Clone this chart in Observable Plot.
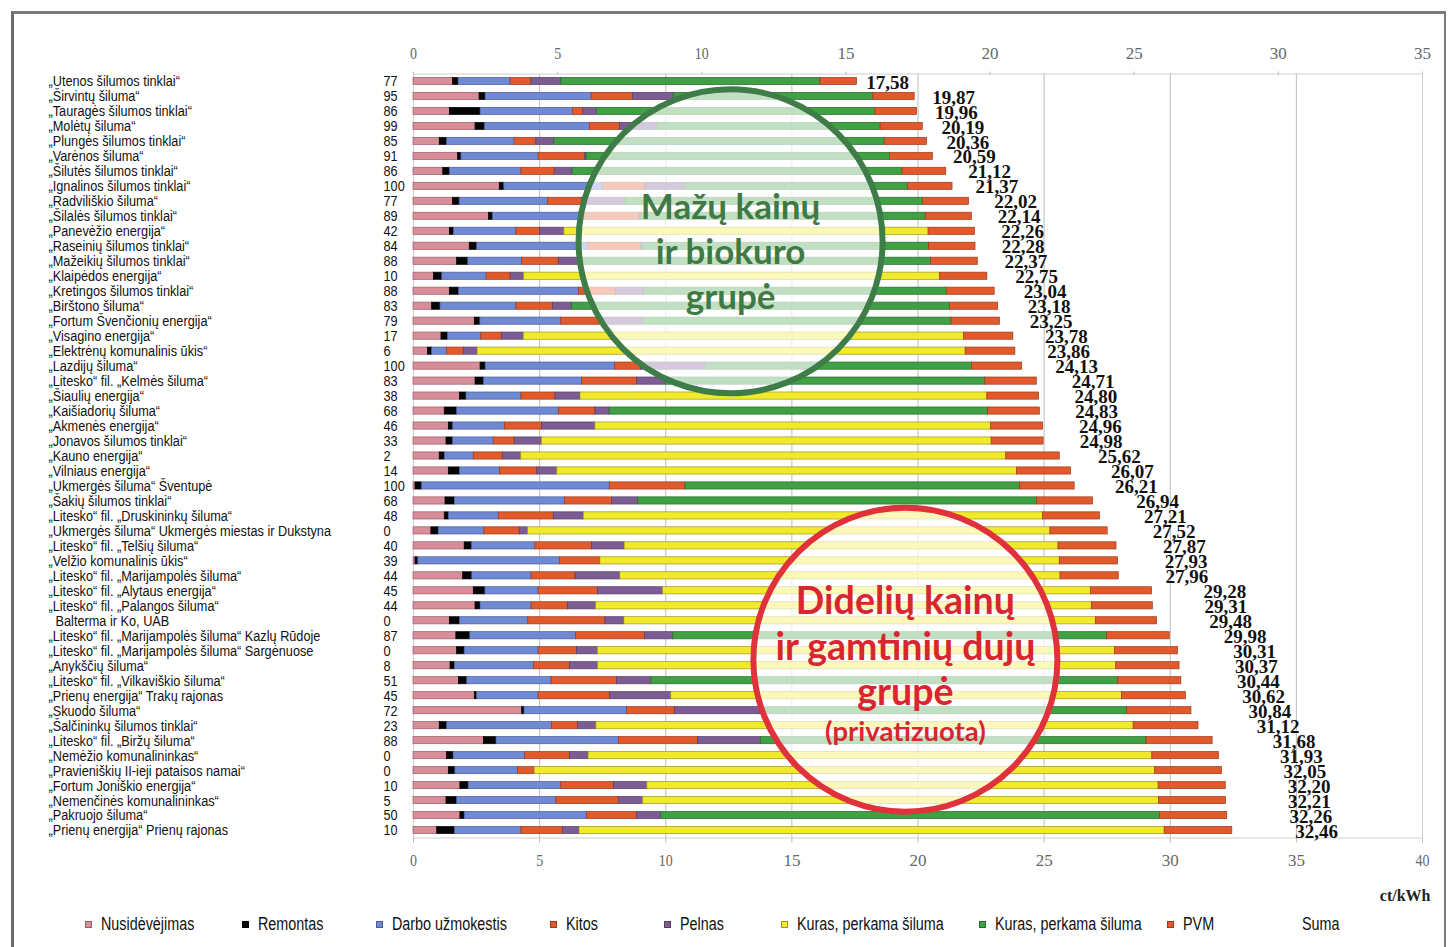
<!DOCTYPE html>
<html>
<head>
<meta charset="utf-8">
<script src="https://cdn.jsdelivr.net/npm/d3@7"></script>
<script src="https://cdn.jsdelivr.net/npm/@observablehq/plot@0.6"></script>
<style>
  body { margin: 0; background: #fff; }
  #wrap { position: relative; width: 1456px; height: 947px; overflow: hidden; background: #fff; }
  #chart { position: absolute; left: 0; top: 0; }
  #frame { position: absolute; left: 11px; top: 11px; width: 1430px; height: 980px;
           border-left: 3px solid #6b6b6b; border-top: 3px solid #7a7a7a; border-right: 2px solid #7a7a7a;
           pointer-events: none; }
  #legend { position: absolute; left: 0; top: 913px; width: 1456px; height: 22px;
            font-family: "Liberation Sans", Arial, sans-serif;
            font-size: 17.5px; color: #111; }
  .li { position: absolute; top: 0; white-space: nowrap; line-height: 22px; }
  .sw { display: inline-block; width: 5px; height: 5px; margin-right: 9px; vertical-align: middle;
        position: relative; top: -1px; border: 1px solid #555; }
  .lt { display: inline-block; transform: scaleX(0.82); transform-origin: 0 50%; }
</style>
</head>
<body>
<div id="wrap">
  <div id="chart"></div>
  <div id="legend"></div>
  <div id="frame"></div>
</div>
<script>
// ---------------- data ----------------
const names = [
  "„Utenos šilumos tinklai“",
  "„Širvintų šiluma“",
  "„Tauragės šilumos tinklai“",
  "„Molėtų šiluma“",
  "„Plungės šilumos tinklai“",
  "„Varėnos šiluma“",
  "„Šilutės šilumos tinklai“",
  "„Ignalinos šilumos tinklai“",
  "„Radviliškio šiluma“",
  "„Šilalės šilumos tinklai“",
  "„Panevėžio energija“",
  "„Raseinių šilumos tinklai“",
  "„Mažeikių šilumos tinklai“",
  "„Klaipėdos energija“",
  "„Kretingos šilumos tinklai“",
  "„Birštono šiluma“",
  "„Fortum Švenčionių energija“",
  "„Visagino energija“",
  "„Elektrėnų komunalinis ūkis“",
  "„Lazdijų šiluma“",
  "„Litesko“ fil. „Kelmės šiluma“",
  "„Šiaulių energija“",
  "„Kaišiadorių šiluma“",
  "„Akmenės energija“",
  "„Jonavos šilumos tinklai“",
  "„Kauno energija“",
  "„Vilniaus energija“",
  "„Ukmergės šiluma“ Šventupė",
  "„Šakių šilumos tinklai“",
  "„Litesko“ fil. „Druskininkų šiluma“",
  "„Ukmergės šiluma“ Ukmergės miestas ir Dukstyna",
  "„Litesko“ fil. „Telšių šiluma“",
  "„Velžio komunalinis ūkis“",
  "„Litesko“ fil. „Marijampolės šiluma“",
  "„Litesko“ fil. „Alytaus energija“",
  "„Litesko“ fil. „Palangos šiluma“",
  "\u00a0\u00a0Balterma ir Ko, UAB",
  "„Litesko“ fil. „Marijampolės šiluma“ Kazlų Rūdoje",
  "„Litesko“ fil. „Marijampolės šiluma“ Sargėnuose",
  "„Anykščių šiluma“",
  "„Litesko“ fil. „Vilkaviškio šiluma“",
  "„Prienų energija“ Trakų rajonas",
  "„Skuodo šiluma“",
  "„Šalčininkų šilumos tinklai“",
  "„Litesko“ fil. „Biržų šiluma“",
  "„Nemėžio komunalininkas“",
  "„Pravieniškių II-ieji pataisos namai“",
  "„Fortum Joniškio energija“",
  "„Nemenčinės komunalininkas“",
  "„Pakruojo šiluma“",
  "„Prienų energija“ Prienų rajonas"
];
const share = [77,95,86,99,85,91,86,100,77,89,42,84,88,10,88,83,79,17,6,100,83,38,68,46,33,2,14,100,68,48,0,40,39,44,45,44,0,87,0,8,51,45,72,23,88,0,0,10,5,50,10];

const nusidevejimas = [1.57,2.62,1.44,2.46,1.04,1.77,1.18,3.42,1.57,2.99,1.44,2.23,1.73,0.81,1.44,0.74,2.43,1.11,0.58,2.66,2.46,1.84,1.24,1.40,1.31,1.04,1.40,0.08,1.27,1.24,0.71,2.03,0.08,1.97,2.39,2.46,1.44,1.70,1.73,1.47,1.80,2.43,4.31,1.04,2.79,1.33,1.40,1.86,1.31,1.86,0.94];
const remontas      = [0.22,0.24,1.22,0.37,0.29,0.13,0.26,0.18,0.26,0.16,0.16,0.29,0.44,0.33,0.36,0.33,0.22,0.26,0.16,0.20,0.33,0.26,0.49,0.17,0.26,0.20,0.44,0.26,0.37,0.16,0.29,0.29,0.11,0.36,0.46,0.20,0.40,0.55,0.30,0.17,0.33,0.09,0.09,0.29,0.50,0.26,0.26,0.33,0.42,0.17,0.70];
const darbo         = [2.06,4.20,3.67,4.16,2.68,3.06,2.84,3.92,3.50,3.49,2.48,4.41,2.14,1.76,4.76,3.01,3.21,1.32,0.59,5.13,3.90,2.18,4.03,2.05,1.61,1.15,1.59,7.44,4.36,1.98,1.81,2.51,5.61,2.35,2.11,2.02,2.71,4.20,2.93,3.13,3.34,2.44,4.07,4.16,4.85,2.84,2.48,3.67,3.94,4.85,2.64];
const kitos         = [0.82,1.65,0.40,1.19,0.86,1.85,1.32,1.67,1.36,2.30,0.95,2.10,1.45,0.95,1.47,1.45,1.66,0.82,0.66,1.03,2.18,1.35,1.45,1.48,0.83,1.15,1.48,3.00,1.88,2.18,1.40,2.25,1.61,1.74,2.35,1.45,3.06,2.73,1.52,1.43,2.60,2.84,1.89,1.03,3.14,1.78,0.66,2.09,2.47,1.98,1.64];
const pelnas        = [1.19,1.61,0.55,1.50,0.71,0.05,0.71,1.59,1.70,0.10,0.95,0.05,0.79,0.53,1.11,0.75,1.59,0.86,0.55,2.58,1.13,0.99,0.57,2.11,1.08,0.73,0.79,0,1.03,1.19,0.33,1.29,0,1.78,2.58,1.11,0.75,1.12,0.83,1.12,1.36,2.42,3.40,0.73,2.49,0.73,0,1.32,0.96,0.96,0.66];
// Kuras, perkama šiluma – gamtinės dujos (geltona)
const kurasDujos    = [0,0,0,0,0,0,0,0,0,0,14.44,0,0,16.49,0,0,0,17.45,19.35,0,0,16.13,0,15.69,17.83,19.23,18.22,0,0,18.21,20.71,17.20,18.21,17.45,16.97,19.65,18.69,0,20.50,20.54,0,17.87,0,21.30,0,22.35,24.60,20.27,20.45,0,23.20];
// Kuras, perkama šiluma – biokuras (žalia)
const kurasBio      = [10.27,7.91,11.03,8.84,13.10,12.03,13.07,8.83,11.81,11.27,0,11.36,13.97,0,12.00,14.99,12.22,0,0,10.54,12.67,0,15.00,0,0,0,0,13.27,15.81,0,0,0,0,0,0,0,0,17.20,0,0,18.50,0,14.53,0,15.29,0,0,0,0,19.78,0];
const pvm           = [1.45,1.64,1.65,1.67,1.68,1.70,1.74,1.76,1.82,1.83,1.84,1.84,1.85,1.88,1.90,1.91,1.92,1.96,1.97,1.99,2.04,2.05,2.05,2.06,2.06,2.12,2.15,2.16,2.22,2.25,2.27,2.30,2.31,2.31,2.42,2.42,2.43,2.48,2.50,2.51,2.51,2.53,2.55,2.57,2.62,2.64,2.65,2.66,2.66,2.66,2.68];
const suma          = [17.58,19.87,19.96,20.19,20.36,20.59,21.12,21.37,22.02,22.14,22.26,22.28,22.37,22.75,23.04,23.18,23.25,23.78,23.86,24.13,24.71,24.80,24.83,24.96,24.98,25.62,26.07,26.21,26.94,27.21,27.52,27.87,27.93,27.96,29.28,29.31,29.48,29.98,30.31,30.37,30.44,30.62,30.84,31.12,31.68,31.93,32.05,32.20,32.21,32.26,32.46];

const bottomTicks = [0,5,10,15,20,25,30,35,40];
const topTicks = [0,5,10,15,20,25,30,35];

// ---------------- styling / config ----------------
const components = [
  {key: "nus", label: "Nusidėvėjimas",         fill: "#d88e99", stroke: "#9a5c66", values: nusidevejimas},
  {key: "rem", label: "Remontas",              fill: "#050505", stroke: "#000000", values: remontas},
  {key: "dar", label: "Darbo užmokestis",      fill: "#7089d3", stroke: "#4a5c9c", values: darbo},
  {key: "kit", label: "Kitos",                 fill: "#e15a2c", stroke: "#9c3a1a", values: kitos},
  {key: "pel", label: "Pelnas",                fill: "#7c5c93", stroke: "#543f68", values: pelnas},
  {key: "kdu", label: "Kuras, perkama šiluma", fill: "#f1ea2b", stroke: "#9e9620", values: kurasDujos},
  {key: "kbi", label: "Kuras, perkama šiluma", fill: "#40a044", stroke: "#2a6a2d", values: kurasBio},
  {key: "pvm", label: "PVM",                   fill: "#e15a2c", stroke: "#9c3a1a", values: pvm}
];
const fillOf = Object.fromEntries(components.map(c => [c.key, c.fill]));
const strokeOf = Object.fromEntries(components.map(c => [c.key, c.stroke]));

const table = [];
names.forEach((name, i) => {
  components.forEach(c => {
    const v = c.values[i];
    if (v > 0) table.push({name, key: c.key, value: v});
  });
});
const rows = names.map((name, i) => ({name, share: share[i], sum: suma[i]}));

const circles = [
  {x: 12.57, y: names[10], dy: 10, stroke: "#3f7d48", color: "#3f7a44",
   lines: [{t: "Mažų kainų", dy: -33, size: 35}, {t: "ir biokuro", dy: 12, size: 35}, {t: "grupė", dy: 57, size: 35}]},
  {x: 19.50, y: names[38], dy: 9, stroke: "#e0323a", color: "#d9262e",
   lines: [{t: "Didelių kainų", dy: -58, size: 37.5}, {t: "ir gamtinių dujų", dy: -12, size: 37.5},
           {t: "grupė", dy: 33, size: 37.5}, {t: "(privatizuota)", dy: 72, size: 27.5}]}
];

const sans = "Liberation Sans, Arial, sans-serif";
const serif = "Liberation Serif, Times New Roman, serif";
const circleFont = "Lato, Open Sans, sans-serif";

const circleMarks = circles.flatMap(c => [
  Plot.dot([c], {x: "x", y: "y", r: 152, dy: c.dy, fill: "white", fillOpacity: 0.68, stroke: c.stroke, strokeWidth: 6}),
  ...c.lines.map(l => Plot.text([c], {x: "x", y: "y", text: () => l.t, dy: c.dy + l.dy, fontSize: l.size,
      fontWeight: "bold", fontFamily: circleFont, fill: c.color}))
]);

const chart = Plot.plot({
  width: 1456,
  height: 905,
  marginLeft: 413,
  marginRight: 34,
  marginTop: 73.5,
  marginBottom: 67.5,
  x: {domain: [0, 40]},
  y: {domain: names, paddingInner: 0.52, paddingOuter: 0.26, axis: null},
  style: {fontFamily: sans, background: "transparent", overflow: "visible"},
  marks: [
    Plot.gridX({ticks: bottomTicks, stroke: "#bdbdbd", strokeOpacity: 1}),
    Plot.frame({stroke: "#cfcfcf"}),
    Plot.axisX({anchor: "bottom", ticks: bottomTicks, tickSize: 5, tickPadding: 11,
      fontSize: 17, fontFamily: serif, color: "#666", stroke: "#bbb"}),
    Plot.axisX({anchor: "top", ticks: topTicks.map(v => v * 40 / 35),
      tickFormat: d => String(Math.round(d * 35 / 40)), tickSize: 3, tickPadding: 12,
      fontSize: 17, fontFamily: serif, color: "#666", stroke: "#bbb"}),
    Plot.barX(table, {x: "value", y: "name", fill: d => fillOf[d.key], stroke: d => strokeOf[d.key], strokeWidth: 0.7}),
    ...circleMarks,
    Plot.text(rows, {y: "name", text: "name", frameAnchor: "left", dx: -365, textAnchor: "start",
      fontSize: 15.5, fontFamily: sans, fill: "#111"}),
    Plot.text(rows, {y: "name", text: d => String(d.share), frameAnchor: "left", dx: -30, textAnchor: "start",
      fontSize: 15.5, fontFamily: sans, fill: "#111"}),
    Plot.text(rows, {x: d => d.sum * 40 / 35, y: "name", text: d => d.sum.toFixed(2).replace(".", ","),
      textAnchor: "start", dx: -54, dy: 1, fontSize: 19, fontWeight: "bold", fontFamily: serif, fill: "#111"}),
    Plot.text(["ct/kWh"], {frameAnchor: "bottom-right", text: d => d, textAnchor: "end", dx: 8, dy: 63,
      fontSize: 16, fontWeight: "bold", fontFamily: serif, fill: "#222"})
  ]
});
document.getElementById("chart").appendChild(chart);

// condense the row labels (the original uses a narrow sans-serif face)
const condensed = new Set([...names, ...share.map(String)]);
d3.select(chart).selectAll("text").each(function() {
  if (this.childElementCount === 0 && condensed.has(this.textContent)) {
    const w = this.getComputedTextLength();
    if (w > 0) {
      this.setAttribute("textLength", (w * 0.82).toFixed(1));
      this.setAttribute("lengthAdjust", "spacingAndGlyphs");
    }
  }
});

// ---------------- legend ----------------
const legendItems = [
  {label: "Nusidėvėjimas", key: "nus", left: 85},
  {label: "Remontas", key: "rem", left: 242},
  {label: "Darbo užmokestis", key: "dar", left: 376},
  {label: "Kitos", key: "kit", left: 550},
  {label: "Pelnas", key: "pel", left: 664},
  {label: "Kuras, perkama šiluma", key: "kdu", left: 781},
  {label: "Kuras, perkama šiluma", key: "kbi", left: 979},
  {label: "PVM", key: "pvm", left: 1167},
  {label: "Suma", key: null, left: 1302}
];
const legend = document.getElementById("legend");
legendItems.forEach(it => {
  const d = document.createElement("div");
  d.className = "li";
  d.style.left = it.left + "px";
  if (it.key) {
    const s = document.createElement("span");
    s.className = "sw";
    s.style.background = fillOf[it.key];
    s.style.borderColor = strokeOf[it.key];
    d.appendChild(s);
  }
  const t = document.createElement("span");
  t.className = "lt";
  t.textContent = it.label;
  d.appendChild(t);
  legend.appendChild(d);
});
</script>
</body>
</html>
